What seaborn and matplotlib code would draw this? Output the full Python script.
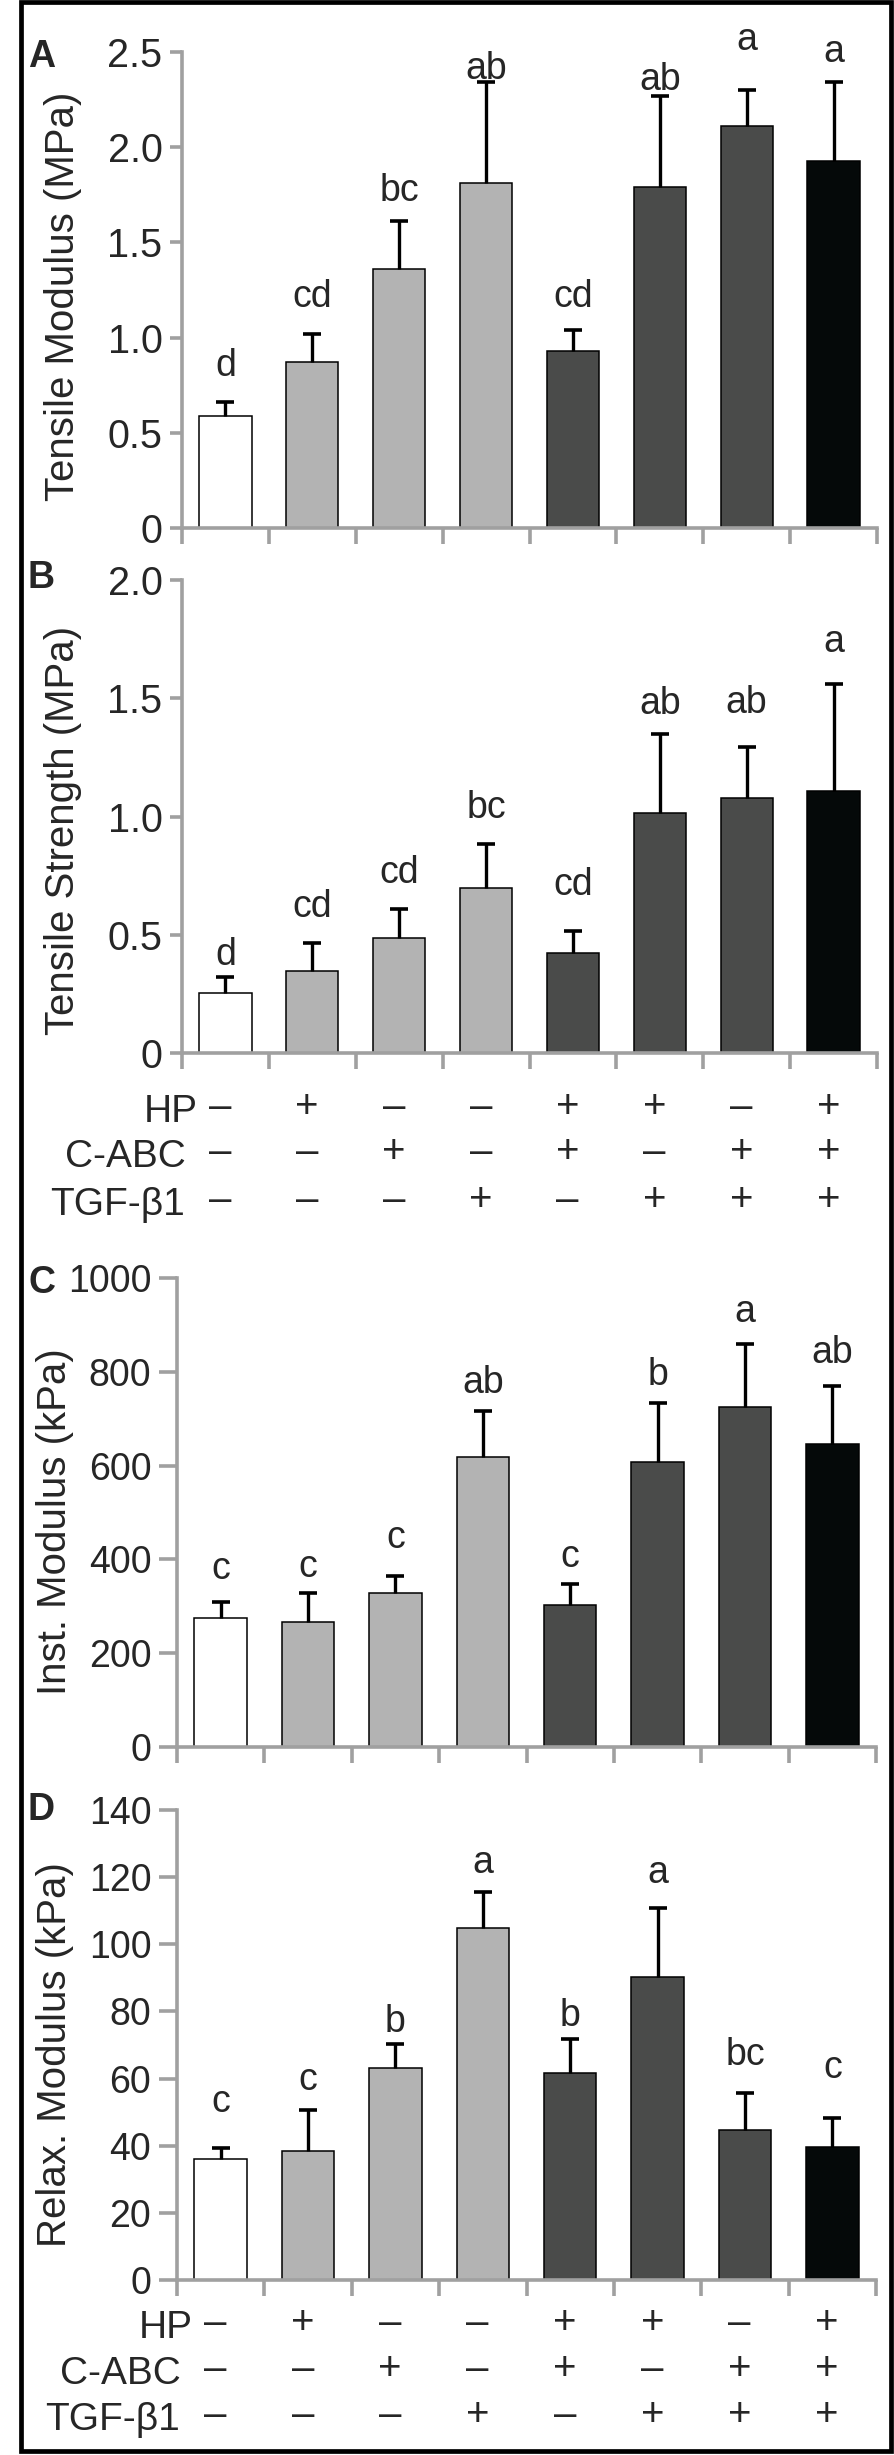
import matplotlib
matplotlib.use('Agg')
import matplotlib.pyplot as plt
from matplotlib.patches import Rectangle
import seaborn as sns
import numpy as np
import pandas as pd

# ---------------------------------------------------------------------------
# Data
# ---------------------------------------------------------------------------
groups = ['Ctrl', 'HP', 'C-ABC', 'TGF', 'HP+C-ABC', 'HP+TGF', 'C-ABC+TGF', 'All']
bar_colors = ['#ffffff', '#b3b3b3', '#b3b3b3', '#b3b3b3',
              '#4a4b4a', '#4a4b4a', '#4a4b4a', '#050909']

row_names = ['HP', 'C-ABC', 'TGF-β1']
hp_signs = ['–', '+', '–', '–', '+', '+', '–', '+']
cabc_signs = ['–', '–', '+', '–', '+', '–', '+', '+']
tgf_signs = ['–', '–', '–', '+', '–', '+', '+', '+']

tensile_modulus = [0.59, 0.87, 1.36, 1.81, 0.93, 1.79, 2.11, 1.93]
tensile_modulus_err = [0.07, 0.15, 0.25, 0.53, 0.11, 0.48, 0.19, 0.41]
tensile_modulus_letters = ['d', 'cd', 'bc', 'ab', 'cd', 'ab', 'a', 'a']
tensile_modulus_letter_y = [0.80, 1.16, 1.72, 2.36, 1.16, 2.30, 2.51, 2.45]

tensile_strength = [0.255, 0.346, 0.486, 0.698, 0.423, 1.015, 1.079, 1.109]
tensile_strength_err = [0.065, 0.121, 0.121, 0.186, 0.091, 0.332, 0.213, 0.450]
tensile_strength_letters = ['d', 'cd', 'cd', 'bc', 'cd', 'ab', 'ab', 'a']
tensile_strength_letter_y = [0.373, 0.577, 0.718, 0.992, 0.668, 1.434, 1.438, 1.695]

inst_modulus = [274, 266, 329, 618, 302, 607, 725, 646]
inst_modulus_err = [36, 63, 36, 98, 45, 126, 134, 124]
inst_modulus_letters = ['c', 'c', 'c', 'ab', 'c', 'b', 'a', 'ab']
inst_modulus_letter_y = [359, 363, 424, 755, 384, 772, 906, 819]

relax_modulus = [35.9, 38.3, 63.1, 105.0, 61.8, 90.2, 44.6, 39.7]
relax_modulus_err = [3.4, 12.4, 7.2, 10.7, 9.9, 20.7, 11.0, 8.7]
relax_modulus_letters = ['c', 'c', 'b', 'a', 'b', 'a', 'bc', 'c']
relax_modulus_letter_y = [50.1, 56.7, 74.0, 121.1, 75.6, 118.4, 64.0, 60.3]

# ---------------------------------------------------------------------------
# Style
# ---------------------------------------------------------------------------
sns.set_style('white')
plt.rcParams['font.family'] = ['Liberation Sans', 'DejaVu Sans']

W, H = 894, 2455
AXIS_GRAY = '#a0a0a0'
SPINE_LW = 2.6


def fx(px):
    return px / W


def fy(py):
    return 1 - py / H


def make_axes(fig, left, right, top, bottom):
    return fig.add_axes([fx(left), fy(bottom), (right - left) / W, (bottom - top) / H])


def draw_panel(ax, values, errs, letters, letter_y, ytop, yticks, yticklabels,
               ylabel, label_x, label_y, ytick_len, tick_size):
    df = pd.DataFrame({'group': groups, 'value': values})
    sns.barplot(data=df, x='group', y='value', hue='group', palette=bar_colors,
                saturation=1, width=0.6, edgecolor='black', linewidth=1.1,
                errorbar=None, legend=False, ax=ax, zorder=2)

    x = np.arange(len(values))
    tops = np.array(values) + np.array(errs)
    ax.errorbar(x, values, yerr=[np.zeros(len(errs)), errs], fmt='none',
                ecolor='black', elinewidth=2.4, capsize=0, zorder=3)
    ax.plot(x, tops, ls='none', marker='_', ms=13, mew=2.6, color='black', zorder=3)

    for xi, (lt, ly) in enumerate(zip(letters, letter_y)):
        ax.text(xi, ly, lt, ha='center', va='baseline', fontsize=27, clip_on=False)

    ax.set_xlim(-0.5, len(values) - 0.5)
    ax.set_ylim(0, ytop)
    ax.set_xticks(np.arange(-0.5, len(values), 1.0))
    ax.set_xticklabels([])
    ax.set_yticks(yticks)
    ax.set_yticklabels(yticklabels)
    ax.set_xlabel('')
    ax.set_ylabel('')
    ax.tick_params(axis='x', direction='out', length=11.5, width=SPINE_LW,
                   color=AXIS_GRAY, bottom=True)
    ax.tick_params(axis='y', direction='out', length=ytick_len, width=SPINE_LW,
                   color=AXIS_GRAY, labelsize=tick_size, pad=5.5, left=True)
    for side in ['top', 'right']:
        ax.spines[side].set_visible(False)
    for side in ['left', 'bottom']:
        ax.spines[side].set_color(AXIS_GRAY)
        ax.spines[side].set_linewidth(SPINE_LW)
    ax.text(label_x, label_y, ylabel, transform=ax.transAxes, rotation=90,
            ha='center', va='center', fontsize=29)


def draw_rows(ax, baselines_px, label_x):
    rows = [hp_signs, cabc_signs, tgf_signs]
    for name, signs, base, lx in zip(row_names, rows, baselines_px, label_x):
        ax.annotate(name, xy=(lx, 0), xycoords=('data', 'axes fraction'),
                    xytext=(0, -base * 0.72), textcoords='offset points',
                    ha='right', va='baseline', fontsize=28, annotation_clip=False)
        for i, s in enumerate(signs):
            ax.annotate(s, xy=(i - 0.06, 0), xycoords=('data', 'axes fraction'),
                        xytext=(0, -(base - 4) * 0.72), textcoords='offset points',
                        ha='center', va='baseline', fontsize=29,
                        annotation_clip=False)


fig = plt.figure(figsize=(W / 100, H / 100), dpi=100)

ax_a = make_axes(fig, 182, 877, 52, 528)
ax_b = make_axes(fig, 182, 877, 580, 1053)
ax_c = make_axes(fig, 177, 876, 1278, 1747)
ax_d = make_axes(fig, 177, 876, 1810, 2280)

draw_panel(ax_a, tensile_modulus, tensile_modulus_err, tensile_modulus_letters,
           tensile_modulus_letter_y, 2.5, [0, 0.5, 1.0, 1.5, 2.0, 2.5],
           ['0', '0.5', '1.0', '1.5', '2.0', '2.5'], 'Tensile Modulus (MPa)',
           -0.171, 0.487, 8.6, 28.5)
draw_panel(ax_b, tensile_strength, tensile_strength_err, tensile_strength_letters,
           tensile_strength_letter_y, 2.0, [0, 0.5, 1.0, 1.5, 2.0],
           ['0', '0.5', '1.0', '1.5', '2.0'], 'Tensile Strength (MPa)',
           -0.171, 0.471, 8.6, 28.5)
draw_panel(ax_c, inst_modulus, inst_modulus_err, inst_modulus_letters,
           inst_modulus_letter_y, 1000, [0, 200, 400, 600, 800, 1000],
           ['0', '200', '400', '600', '800', '1000'], 'Inst. Modulus (kPa)',
           -0.175, 0.48, 13, 27)
draw_panel(ax_d, relax_modulus, relax_modulus_err, relax_modulus_letters,
           relax_modulus_letter_y, 140, [0, 20, 40, 60, 80, 100, 120, 140],
           ['0', '20', '40', '60', '80', '100', '120', '140'], 'Relax. Modulus (kPa)',
           -0.175, 0.48, 13, 27)

draw_rows(ax_b, [69, 114, 162], [-0.32, -0.46, -0.47])
draw_rows(ax_d, [58, 104, 150], [-0.32, -0.46, -0.47])

for letter, base in zip(['A', 'B', 'C', 'D'], [67, 588, 1293, 1820]):
    fig.text(fx(28), fy(base), letter, ha='left', va='baseline',
             fontsize=27, fontweight='bold')

fig.add_artist(Rectangle((fx(20.5), fy(2451)), (890.5 - 20.5) / W, (2451 - 2) / H,
                         transform=fig.transFigure, fill=False,
                         edgecolor='black', linewidth=3.4))

fig.savefig('out.png', dpi=100)
